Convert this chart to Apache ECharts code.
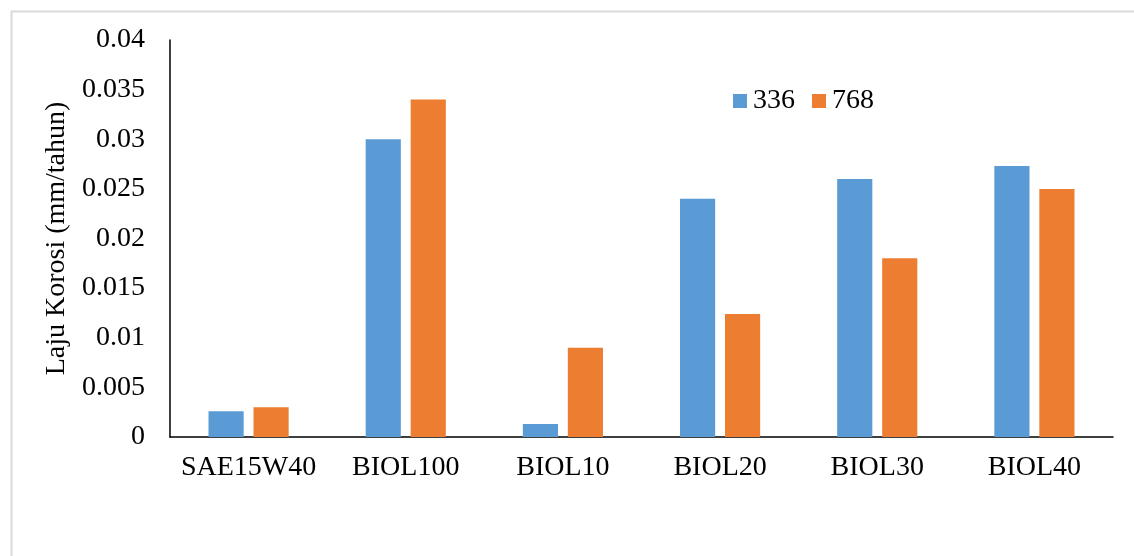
<!DOCTYPE html>
<html>
<head>
<meta charset="utf-8">
<script src="https://cdn.jsdelivr.net/npm/echarts@6/dist/echarts.min.js"></script>
<style>
  html, body { margin: 0; padding: 0; background: #ffffff; }
  #chart { width: 1134px; height: 556px; }
</style>
</head>
<body>
<div id="chart"></div>
<script>
// Corrosion rate per oil sample, at two exposure durations
const categories = ['SAE15W40', 'BIOL100', 'BIOL10', 'BIOL20', 'BIOL30', 'BIOL40'];
const seriesNames = ['336', '768'];
const values336 = [0.0026, 0.030, 0.0013, 0.024, 0.026, 0.0273];
const values768 = [0.0030, 0.034, 0.0090, 0.0124, 0.018, 0.025];

const FONT = '"Liberation Serif", "Times New Roman", serif';
const chart = echarts.init(document.getElementById('chart'), null, { renderer: 'canvas' });

chart.setOption({
  backgroundColor: '#ffffff',
  animation: false,
  textStyle: { fontFamily: FONT, color: '#000000' },
  graphic: [{
    type: 'rect',
    left: 9, top: 9,
    shape: { width: 1140, height: 560 },
    style: { fill: 'none', stroke: '#d9d9d9', lineWidth: 2 },
    silent: true
  }],
  grid: { left: 170, right: 21, top: 40, bottom: 119, containLabel: false },
  legend: {
    data: seriesNames,
    left: 733, top: 87,
    padding: 0,
    icon: 'rect',
    itemWidth: 14, itemHeight: 14,
    itemGap: 17,
    textStyle: { fontFamily: FONT, fontSize: 28, color: '#000000', padding: [0, 0, 0, 1] }
  },
  xAxis: {
    type: 'category',
    data: categories,
    axisLine: { show: true, lineStyle: { color: '#000000', width: 1.5 } },
    axisTick: { show: false },
    axisLabel: { fontFamily: FONT, fontSize: 28, color: '#000000', margin: 17, interval: 0 }
  },
  yAxis: {
    type: 'value',
    min: 0, max: 0.04, interval: 0.005,
    name: 'Laju Korosi (mm/tahun)',
    nameLocation: 'middle',
    nameGap: 92,
    nameTextStyle: { fontFamily: FONT, fontSize: 28, color: '#000000' },
    axisLine: { show: true, lineStyle: { color: '#000000', width: 1.5 } },
    axisTick: { show: false },
    splitLine: { show: false },
    axisLabel: {
      fontFamily: FONT, fontSize: 28, color: '#000000', margin: 25,
      formatter: v => String(parseFloat(v.toFixed(4)))
    }
  },
  series: [
    {
      name: seriesNames[0], type: 'bar', data: values336,
      itemStyle: { color: '#5B9BD5' },
      barGap: '28%', barCategoryGap: '49%'
    },
    {
      name: seriesNames[1], type: 'bar', data: values768,
      itemStyle: { color: '#ED7D31' },
      barGap: '28%', barCategoryGap: '49%'
    }
  ]
});
</script>
</body>
</html>
